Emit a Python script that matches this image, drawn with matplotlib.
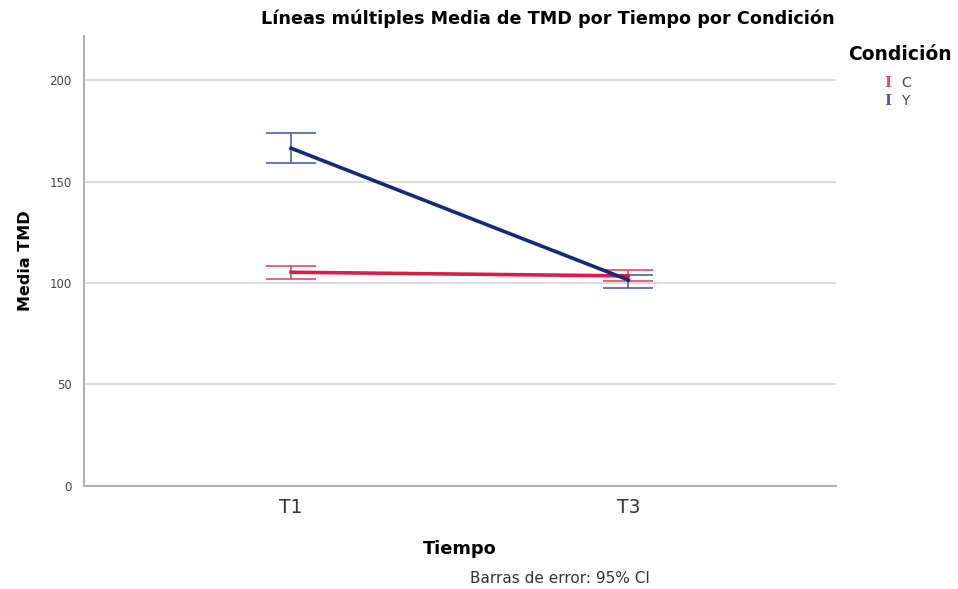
import numpy as np
import matplotlib.pyplot as plt

plt.rcParams["font.family"] = ["DejaVu Sans"]

# Mean TMD per time point and condition, with 95% CI bounds
tiempos = ["T1", "T3"]
condiciones = ["C", "Y"]
media_c = [105.3, 103.5]
ci_low_c = [101.8, 100.9]
ci_high_c = [108.5, 106.4]
media_y = [166.4, 101.5]
ci_low_y = [159.1, 97.7]
ci_high_y = [173.9, 103.9]

line_colors = ["#d81e45", "#142a78"]
bar_colors = ["#e0486a", "#4a62a6"]

fig = plt.figure(figsize=(9.58, 5.89), dpi=100)
ax = fig.add_axes([0.0877, 0.1749, 0.785, 0.764])

x = np.arange(len(tiempos))
series = [(media_c, ci_low_c, ci_high_c), (media_y, ci_low_y, ci_high_y)]
for (m, lo, hi), lc, bc in zip(series, line_colors, bar_colors):
    m = np.array(m)
    err = np.vstack([m - np.array(lo), np.array(hi) - m])
    ax.errorbar(x, m, yerr=err, fmt="none", ecolor=bc, elinewidth=1.2,
                capsize=18, capthick=1.2, zorder=3)
    ax.plot(x, m, color=lc, lw=2.6, zorder=4)

ax.set_xlim(-0.614, 1.616)
ax.set_ylim(0, 221.7)
ax.set_yticks([0, 50, 100, 150, 200])
ax.set_xticks(x)
ax.set_xticklabels(tiempos, fontsize=13.5, color="#333333")
ax.tick_params(axis="y", length=0, labelsize=8.5, labelcolor="#444444", pad=9)
ax.tick_params(axis="x", length=0, pad=9)
ax.grid(axis="y", color="#d4d4d4", lw=1.2, zorder=0)
for s in ["top", "right"]:
    ax.spines[s].set_visible(False)
for s in ["left", "bottom"]:
    ax.spines[s].set_color("#b0b0b0")
    ax.spines[s].set_linewidth(1.5)

ax.set_xlabel("Tiempo", fontsize=12.8, fontweight="bold", labelpad=16)
ax.set_ylabel("Media TMD", fontsize=11.5, fontweight="bold", labelpad=12)
fig.text(0.572, 0.968, "Líneas múltiples Media de TMD por Tiempo por Condición",
         ha="center", va="center", fontsize=12.7, fontweight="bold")
fig.text(0.585, 0.018, "Barras de error: 95% CI", ha="center", va="center",
         fontsize=11, color="#333333")

# Legend
fig.text(0.885, 0.908, "Condición", ha="left", va="center", fontsize=13.5,
         fontweight="bold")
for i, (name, c) in enumerate(zip(condiciones, bar_colors)):
    yy = 0.859 - i * 0.031
    fig.text(0.927, yy, "I", ha="center", va="center", fontsize=11,
             fontweight="bold", color=c, family="DejaVu Serif")
    fig.text(0.941, yy, name, ha="left", va="center", fontsize=10,
             color="#444444")

fig.savefig("out.png", dpi=100)
